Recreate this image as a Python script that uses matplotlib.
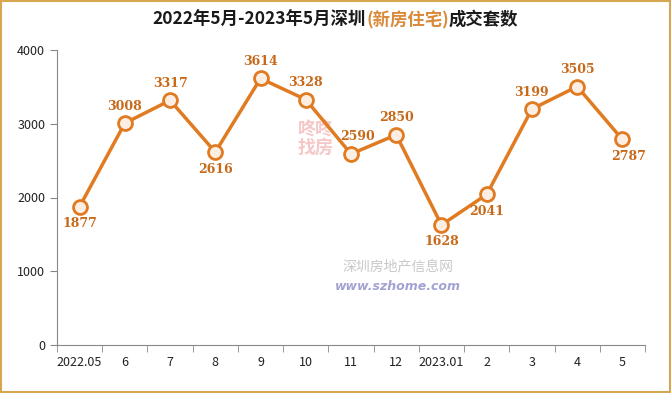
import matplotlib.pyplot as plt
from matplotlib import patches

plt.rcParams['font.family'] = ['Noto Sans CJK SC', 'DejaVu Sans']

months = ['2022.05', '6', '7', '8', '9', '10', '11', '12', '2023.01', '2', '3', '4', '5']
sales = [1877, 3008, 3317, 2616, 3614, 3328, 2590, 2850, 1628, 2041, 3199, 3505, 2787]
# label placement: (dx, dy) in pixels relative to the point
label_pos = [(0, -17), (0, 17), (0, 17), (0, -17), (0, 17), (0, 17), (6, 17),
             (0, 17), (0, -17), (0, -17), (0, 17), (0, 17), (6, -17)]

orange = '#E07B22'
label_col = '#C8691A'

fig = plt.figure(figsize=(6.71, 3.93), dpi=100)
fig.patches.append(patches.Rectangle((0.002, 0.003), 0.996, 0.994, transform=fig.transFigure,
                                     fill=False, edgecolor='#D6A650', linewidth=1.5))
ax = fig.add_axes([57 / 671, 48 / 393, 588 / 671, 295 / 393])

x = list(range(len(months)))
ax.plot(x, sales, color=orange, linewidth=2.5, marker='o', markersize=10,
        markerfacecolor='#FCEEE2', markeredgecolor=orange, markeredgewidth=2, zorder=3)

for i, v in enumerate(sales):
    dx, dy = label_pos[i]
    ax.annotate(str(v), (i, v), xytext=(dx * 0.72, dy * 0.72), textcoords='offset points',
                ha='center', va='center', fontsize=9, color=label_col, fontweight='bold',
                family=['DejaVu Serif'], zorder=4)

ax.set_xlim(-0.5, len(months) - 0.5)
ax.set_ylim(0, 4000)
ax.set_yticks([0, 1000, 2000, 3000, 4000])
ax.set_xticks(x)
ax.set_xticklabels(months)
ax.set_xticks([i - 0.5 for i in range(len(months) + 1)], minor=True)
ax.tick_params(axis='x', which='major', length=0, pad=8, labelsize=9, colors='#222222')
ax.tick_params(axis='x', which='minor', length=5, color='#888888')
ax.tick_params(axis='y', length=5, color='#888888', labelsize=9, labelcolor='#222222')
for s in ['top', 'right']:
    ax.spines[s].set_visible(False)
for s in ['left', 'bottom']:
    ax.spines[s].set_color('#888888')

# watermark
ax.text(0.58, 0.265, '深圳房地产信息网', transform=ax.transAxes, ha='center', va='center',
        fontsize=10, color='#BBBBBB', style='italic', alpha=0.8)
ax.text(0.58, 0.20, 'www.szhome.com', transform=ax.transAxes, ha='center', va='center',
        fontsize=9, color='#8C8CC8', style='italic', fontweight='bold', alpha=0.8, family=['DejaVu Sans'])
ax.text(0.44, 0.70, '咚咚\n找房', transform=ax.transAxes, ha='center', va='center',
        fontsize=13, color='#F2B0B0', fontweight='bold', linespacing=0.95, alpha=0.7, zorder=1)

# title with coloured middle part
parts = [('2022年5月-2023年5月深圳', '#1A1A1A'), ('(新房住宅)', '#D98A3A'), ('成交套数', '#1A1A1A')]
fig.canvas.draw()
r = fig.canvas.get_renderer()
texts = []
for s, c in parts:
    t = fig.text(0, 1 - 20 / 393, s, color=c, fontsize=12.5, fontweight='bold', va='center', ha='left')
    texts.append(t)
widths = [t.get_window_extent(r).width for t in texts]
start = (671 - sum(widths)) / 2
for t, w in zip(texts, widths):
    t.set_x(start / 671)
    start += w

fig.savefig('out.png', dpi=100)
